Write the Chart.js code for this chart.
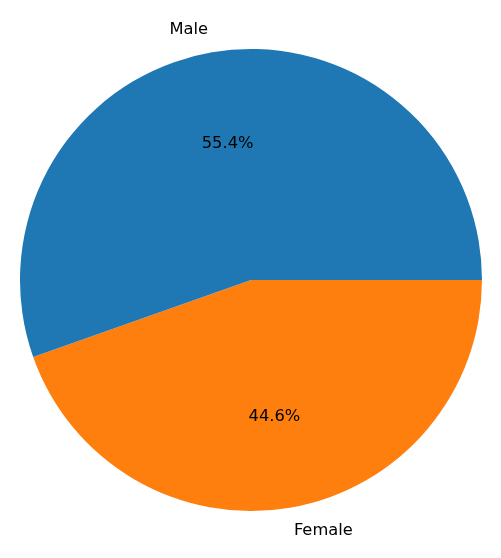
<!DOCTYPE html>
<html>
<head>
<meta charset="utf-8">
<script src="https://cdn.jsdelivr.net/npm/chart.js@4/dist/chart.umd.min.js"></script>
<style>
  html, body { margin: 0; padding: 0; background: #fff; }
  canvas { display: block; }
</style>
</head>
<body>
<canvas id="pie" width="501" height="558"></canvas>
<script>
// Gender split pie (matplotlib-style: starts at 3 o'clock, counter-clockwise)
var categories = ['Male', 'Female'];
var shares = [55.4, 44.6];
var colors = ['#1f77b4', '#ff7f0e'];

// Chart.js draws clockwise, so feed the slices in reverse to get matplotlib's CCW order
var order = categories.map(function (c, i) { return i; }).reverse();

var pieLabels = {
    id: 'pieLabels',
    afterDraw: function (chart) {
        var ctx = chart.ctx;
        var arcs = chart.getDatasetMeta(0).data;
        ctx.save();
        ctx.font = '16.3px "DejaVu Sans", sans-serif';
        ctx.fillStyle = '#000';
        ctx.textBaseline = 'middle';
        arcs.forEach(function (arc, k) {
            var i = order[k];
            var mid = (arc.startAngle + arc.endAngle) / 2;
            var r = arc.outerRadius;
            var cx = Math.cos(mid), cy = Math.sin(mid);
            // category label at 1.1 r
            var lx = arc.x + cx * r * 1.1, ly = arc.y + cy * r * 1.1;
            ctx.textAlign = cx < -1e-6 ? 'right' : (cx > 1e-6 ? 'left' : 'center');
            ctx.fillText(categories[i], lx, ly);
            // percentage at 0.6 r
            ctx.textAlign = 'center';
            ctx.fillText(shares[i].toFixed(1) + '%', arc.x + cx * r * 0.6, arc.y + cy * r * 0.6);
        });
        ctx.restore();
    }
};

new Chart(document.getElementById('pie'), {
    type: 'pie',
    data: {
        labels: order.map(function (i) { return categories[i]; }),
        datasets: [{
            data: order.map(function (i) { return shares[i]; }),
            backgroundColor: order.map(function (i) { return colors[i]; }),
            borderWidth: 0
        }]
    },
    options: {
        responsive: false,
        animation: false,
        rotation: 90,
        layout: { padding: { left: 20, right: 19, top: 49, bottom: 47 } },
        plugins: { legend: { display: false }, tooltip: { enabled: false } }
    },
    plugins: [pieLabels]
});
</script>
</body>
</html>
